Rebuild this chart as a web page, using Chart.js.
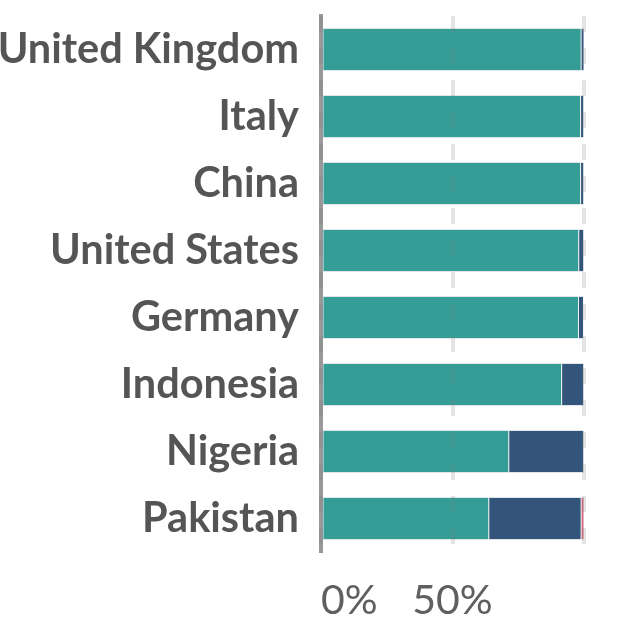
<!DOCTYPE html>
<html lang="en">
<head>
  <meta charset="UTF-8" />
  <title>Share by country</title>
  <style>
    * { margin: 0; padding: 0; box-sizing: border-box; }
    body { background: #fff; width: 640px; height: 640px; overflow: hidden; }
    #wrap { position: relative; width: 640px; height: 640px; }
  </style>
</head>
<body>
  <div id="wrap"><canvas id="chart"></canvas></div>

  <script src="https://cdn.jsdelivr.net/npm/chart.js"></script>
  <script>
const countries = ['United Kingdom', 'Italy', 'China', 'United States', 'Germany', 'Indonesia', 'Nigeria', 'Pakistan'];
const tealShare = [98.9, 98.7, 98.7, 98.0, 97.9, 91.5, 71.4, 63.8];
const blueShare = [1.1, 1.2, 1.2, 1.9, 1.9, 8.4, 28.5, 35.1];
const pinkShare = [0.0, 0.1, 0.1, 0.1, 0.2, 0.1, 0.1, 1.1];
const xTicks = [0, 50, 100];

const barBorder = 'rgba(190,200,205,0.45)';

const ds = (data, color) => ({
  data,
  backgroundColor: color,
  borderColor: barBorder,
  borderWidth: { top: 1, bottom: 1, left: 0.5, right: 0.5 },
  borderSkipped: false,
  barPercentage: 0.64,
  categoryPercentage: 1
});

new Chart(document.getElementById('chart'), {
  type: 'bar',
  data: {
    labels: countries,
    datasets: [
      ds(tealShare, '#349e96'),
      ds(blueShare, '#34557b'),
      ds(pinkShare, '#d96d83')
    ]
  },
  options: {
    indexAxis: 'y',
    responsive: true,
    maintainAspectRatio: false,
    animation: false,
    layout: { padding: { top: 16, right: 56, left: 0, bottom: 0 } },
    plugins: { legend: { display: false }, tooltip: { enabled: false } },
    scales: {
      x: {
        stacked: true,
        min: 0,
        max: 100,
        afterBuildTicks: s => { s.ticks = xTicks.map(v => ({ value: v })); },
        afterFit: s => { s.height = 88; s.paddingLeft = 0; s.paddingRight = 0; },
        grid: {
          z: 1,
          color: 'rgba(120,120,120,0.2)',
          lineWidth: 4,
          drawTicks: false
        },
        border: { display: false, dash: [16, 16] },
        ticks: {
          padding: 24,
          align: 'inner',
          color: '#5f5f5f',
          font: { family: 'Lato', size: 41, weight: '400' },
          callback: v => (v === 100 ? '' : v + '%')
        }
      },
      y: {
        stacked: true,
        afterFit: s => { s.width = 321; s.paddingTop = 0; s.paddingBottom = 0; },
        grid: { display: false },
        border: { display: true, color: '#999', width: 4 },
        ticks: {
          padding: 14,
          color: '#555',
          font: { family: 'Lato', size: 41.5, weight: 'bold' }
        }
      }
    }
  }
});
  </script>
</body>
</html>
